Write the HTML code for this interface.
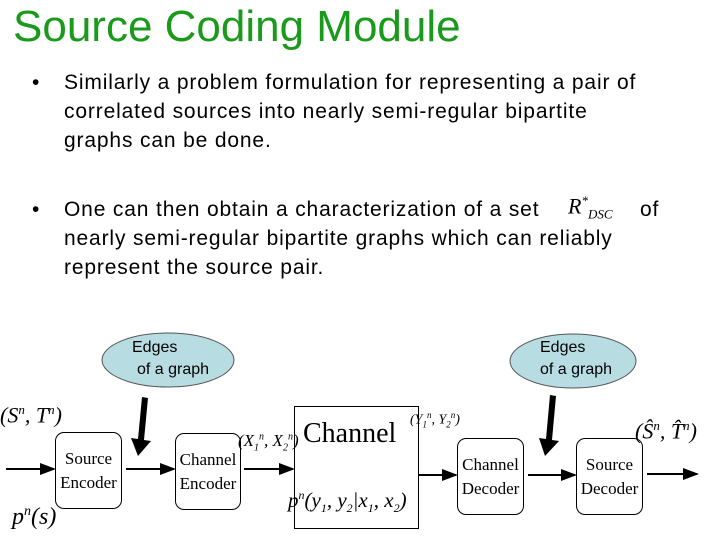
<!DOCTYPE html>
<html><head><style>
body{margin:0;width:720px;height:540px;background:#fff;position:relative;overflow:hidden;font-family:"Liberation Sans",sans-serif}
.t{position:absolute;white-space:nowrap}
.p{position:absolute;white-space:nowrap;font-size:21px;letter-spacing:0.85px;line-height:24px}
.b{position:absolute;border:1px solid #000;border-radius:9px;font-family:"Liberation Serif",serif;font-size:17px;line-height:24px;text-align:center;box-sizing:border-box;display:flex;align-items:center;justify-content:center}
.m{font-family:"Liberation Serif",serif;font-style:italic;position:absolute;white-space:nowrap}
</style></head><body>
<div class="t" style="left:13px;top:2px;font-size:44px;color:#1a9a1a">Source Coding Module</div>
<div class="p" style="left:32px;top:71px">•</div>
<div class="p" style="left:64px;top:71px">Similarly a problem formulation for representing a pair of</div>
<div class="p" style="left:64px;top:100px">correlated sources into nearly semi-regular bipartite</div>
<div class="p" style="left:64px;top:129px">graphs can be done.</div>
<div class="p" style="left:32px;top:198px">•</div>
<div class="p" style="left:64px;top:198px">One can then obtain a characterization of a set</div>
<div class="m" style="left:568px;top:193px;font-size:22px">R<sup style="font-size:13px">*</sup><sub style="font-size:13px">DSC</sub></div>
<div class="p" style="left:640px;top:198px">of</div>
<div class="p" style="left:64px;top:227px">nearly semi-regular bipartite graphs which can reliably</div>
<div class="p" style="left:64px;top:256px">represent the source pair.</div>
<svg width="720" height="540" style="position:absolute;left:0;top:0">
<defs><marker id="a" markerWidth="8" markerHeight="8" refX="7" refY="4" orient="auto"><path d="M0,1 L8,4 L0,7z" fill="#000"/></marker></defs>
<ellipse cx="168" cy="360" rx="66" ry="27" fill="#b7dde3" stroke="#555"/>
<ellipse cx="573" cy="361" rx="63" ry="27" fill="#b7dde3" stroke="#555"/>
<g stroke="#000" stroke-width="2" marker-end="url(#a)">
<line x1="6" y1="469" x2="54" y2="469"/><line x1="126" y1="469" x2="174" y2="469"/>
<line x1="244" y1="469" x2="293" y2="469"/><line x1="419" y1="475" x2="456" y2="475"/>
<line x1="528" y1="475" x2="575" y2="475"/><line x1="647" y1="474" x2="697" y2="474"/>
</g>
<path d="M142,397 L148,398 L144,440 L151,441 L138,456 L131,438 L138,439z" fill="#000"/>
<path d="M550,395 L556,396 L552,440 L559,441 L545,456 L539,438 L546,439z" fill="#000"/>
<rect x="294.5" y="406.5" width="124" height="122" fill="none" stroke="#000"/>
</svg>
<div class="t" style="left:132px;top:339px;font-size:16px">Edges</div>
<div class="t" style="left:137px;top:361px;font-size:16px">of a graph</div>
<div class="t" style="left:540px;top:339px;font-size:16px">Edges</div>
<div class="t" style="left:540px;top:361px;font-size:16px">of a graph</div>
<div class="b" style="left:55px;top:432px;width:67px;height:77px">Source<br>Encoder</div>
<div class="b" style="left:175px;top:433px;width:66px;height:77px">Channel<br>Encoder</div>
<div class="b" style="left:457px;top:438px;width:67px;height:77px">Channel<br>Decoder</div>
<div class="b" style="left:576px;top:438px;width:67px;height:77px">Source<br>Decoder</div>
<div class="t" style="left:303px;top:418px;font-size:28px;font-family:'Liberation Serif',serif">Channel</div>
<div class="m" style="left:0px;top:402px;font-size:22px">(S<sup style="font-size:13px">n</sup>, T<sup style="font-size:13px">n</sup>)</div>
<div class="m" style="left:12px;top:504px;font-size:24px">p<sup style="font-size:14px">n</sup>(s)</div>
<div class="m" style="left:238px;top:431px;font-size:17px">(X<sub style="font-size:10px">1</sub><sup style="font-size:10px">n</sup>, X<sub style="font-size:10px">2</sub><sup style="font-size:10px">n</sup>)</div>
<div class="m" style="left:410px;top:410px;font-size:14px">(Y<sub style="font-size:9px">1</sub><sup style="font-size:9px">n</sup>, Y<sub style="font-size:9px">2</sub><sup style="font-size:9px">n</sup>)</div>
<div class="m" style="left:288px;top:488px;font-size:21px">p<sup style="font-size:12px">n</sup>(y<sub style="font-size:12px">1</sub>, y<sub style="font-size:12px">2</sub>|x<sub style="font-size:12px">1</sub>, x<sub style="font-size:12px">2</sub>)</div>
<div class="m" style="left:635px;top:418px;font-size:22px">(Ŝ<sup style="font-size:13px">n</sup>, T̂<sup style="font-size:13px">n</sup>)</div>
</body></html>
